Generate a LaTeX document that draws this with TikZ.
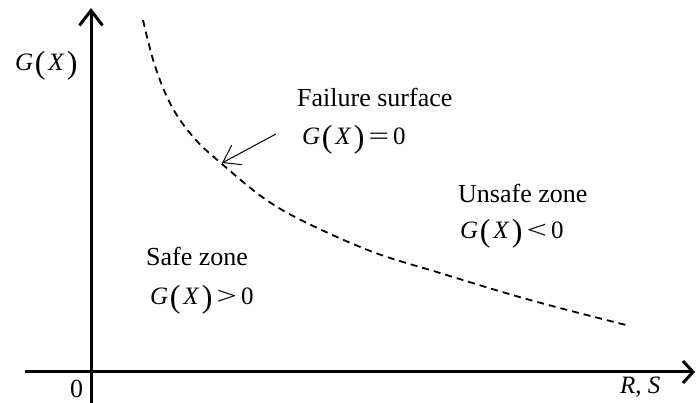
\documentclass[tikz,border=0pt]{standalone}
\usepackage{fontspec}
\usepackage{graphicx}
\setmainfont{Liberation Serif}
\usetikzlibrary{arrows.meta}
\newcommand\bigpar[1]{\raisebox{-2.5pt}{\fontsize{32}{32}\selectfont #1}}
\newcommand\gxpr{\textit{G}\kern1.5pt\bigpar{(}\kern3pt\textit{X}\kern2.5pt\bigpar{)}}
\newcommand\relsym[1]{\kern4pt\scalebox{1.45}[1]{#1}\kern4pt}
\tikzset{
  txt/.style={anchor=base west,inner sep=0pt,font=\fontsize{26}{30}\selectfont},
  mth/.style={anchor=base west,inner sep=0pt,font=\fontsize{25}{28}\selectfont},
  axisline/.style={line width=3pt},
  curveline/.style={line width=1.8pt,dash pattern=on 7pt off 5pt},
  pointer/.style={line width=1pt,-{Straight Barb[length=16pt,width=22pt,line width=1pt]}}
}
\begin{document}
\begin{tikzpicture}[x=1pt,y=-1pt]
\useasboundingbox (0,0) rectangle (697,403);
% axes
\coordinate (vbot) at (91,403);
\coordinate (vtop) at (91,8);
\coordinate (hleft) at (25,372);
\coordinate (hright) at (695,372);
\draw[axisline,-{Straight Barb[length=15pt,width=23pt,line width=3pt]}] (vbot) -- (vtop);
\draw[axisline,-{Straight Barb[length=10pt,width=22pt,line width=3pt]}] (hleft) -- (hright);
% failure curve
\draw[curveline] plot[smooth,tension=0.6] coordinates {(143,20) (155,66) (172,107) (195,139) (222,164) (265,199) (307,223) (373,252) (440,273) (530,300) (630,326)};
% labels
\node[mth] (gy) at (15,71) {\gxpr};
\node[txt] (zero) at (70,398) {0};
\node[mth] (rs) at (620,394) {\textit{R}, \textit{S}};
\node[txt] (fs) at (297,107) {Failure surface};
\node[mth] (fse) at (302,145) {\gxpr\relsym{=}0};
\node[txt] (uz) at (458,203) {Unsafe zone};
\node[mth] (uze) at (460,239) {\gxpr\relsym{<}0};
\node[txt] (sz) at (146,266) {Safe zone};
\node[mth] (sze) at (150,305) {\gxpr\relsym{>}0};
% pointer
\coordinate (ptail) at (276,134);
\coordinate (ptip) at (222,163);
\draw[pointer] (ptail) -- (ptip);
\end{tikzpicture}
\end{document}
